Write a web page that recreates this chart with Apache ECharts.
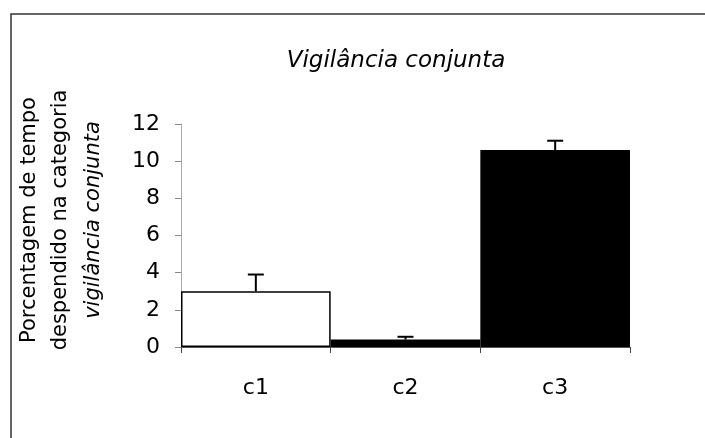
<!DOCTYPE html>
<html>
<head>
<meta charset="utf-8">
<script src="https://cdn.jsdelivr.net/npm/echarts@6/dist/echarts.min.js"></script>
<style>
  html, body { margin: 0; padding: 0; background: #fff; }
  #chart { width: 705px; height: 438px; }
</style>
</head>
<body>
<div id="chart"></div>
<script>
// Conditions and mean percentage of time in joint vigilance
const categories = ['c1', 'c2', 'c3'];
const means = [3.0, 0.4, 10.6];
const errors = [0.9, 0.15, 0.5];
const yTicks = [0, 2, 4, 6, 8, 10, 12];

const titleText = 'Vigilância conjunta';
const yLabelLines = ['Porcentagem de tempo', 'despendido na categoria', 'vigilância conjunta'];

const FONT = '"DejaVu Sans", sans-serif';

const chart = echarts.init(document.getElementById('chart'), null, { renderer: 'canvas' });

const barFills = ['#ffffff', '#000000', '#000000'];

chart.setOption({
  backgroundColor: '#ffffff',
  animation: false,
  title: {
    text: titleText,
    left: 391,
    top: 45,
    textAlign: 'center',
    textStyle: { fontFamily: FONT, fontStyle: 'italic', fontWeight: 'normal', fontSize: 23, color: '#000' }
  },
  grid: { left: 181, right: 75, top: 124, bottom: 91 },
  xAxis: {
    type: 'category',
    data: categories,
    axisLine: { lineStyle: { color: '#555', width: 1 } },
    axisTick: { show: true, length: 6, lineStyle: { color: '#444' } },
    axisLabel: { fontFamily: FONT, fontSize: 22, color: '#000', margin: 30 }
  },
  yAxis: {
    type: 'value',
    min: yTicks[0],
    max: yTicks[yTicks.length - 1],
    interval: yTicks[1] - yTicks[0],
    splitLine: { show: false },
    axisLine: { show: true, lineStyle: { color: '#aaa', width: 1 } },
    axisTick: { show: true, length: 6, lineStyle: { color: '#888' } },
    axisLabel: { fontFamily: FONT, fontSize: 22, color: '#000', margin: 21 }
  },
  series: [
    {
      type: 'bar',
      barCategoryGap: '0%',
      data: means.map((v, i) => ({
        value: v,
        itemStyle: { color: barFills[i], borderColor: '#000', borderWidth: 1.5 }
      })),
      z: 2
    },
    {
      type: 'custom',
      z: 3,
      data: means.map((v, i) => [i, v, errors[i]]),
      renderItem: function (params, api) {
        const base = api.coord([api.value(0), api.value(1)]);
        const top = api.coord([api.value(0), api.value(1) + api.value(2)]);
        const hw = 8;
        const st = { stroke: '#000', lineWidth: 2 };
        return {
          type: 'group',
          children: [
            { type: 'line', shape: { x1: base[0], y1: base[1], x2: top[0], y2: top[1] }, style: st },
            { type: 'line', shape: { x1: top[0] - hw, y1: top[1], x2: top[0] + hw, y2: top[1] }, style: st }
          ]
        };
      }
    }
  ],
  graphic: [
    // frame: top and left edges
    { type: 'polyline', shape: { points: [[11, 438], [11, 14], [705, 14]] }, style: { stroke: '#333', lineWidth: 1.5, fill: null } },
    // y axis title, three rotated lines
    { type: 'text', x: 30, y: 220, rotation: Math.PI / 2,
      style: { text: yLabelLines[0], font: '21px ' + FONT, fill: '#000', textAlign: 'center', textVerticalAlign: 'middle' } },
    { type: 'text', x: 61, y: 220, rotation: Math.PI / 2,
      style: { text: yLabelLines[1], font: '21px ' + FONT, fill: '#000', textAlign: 'center', textVerticalAlign: 'middle' } },
    { type: 'text', x: 94, y: 220, rotation: Math.PI / 2,
      style: { text: yLabelLines[2], font: 'italic 21px ' + FONT, fill: '#000', textAlign: 'center', textVerticalAlign: 'middle' } }
  ]
});
</script>
</body>
</html>
